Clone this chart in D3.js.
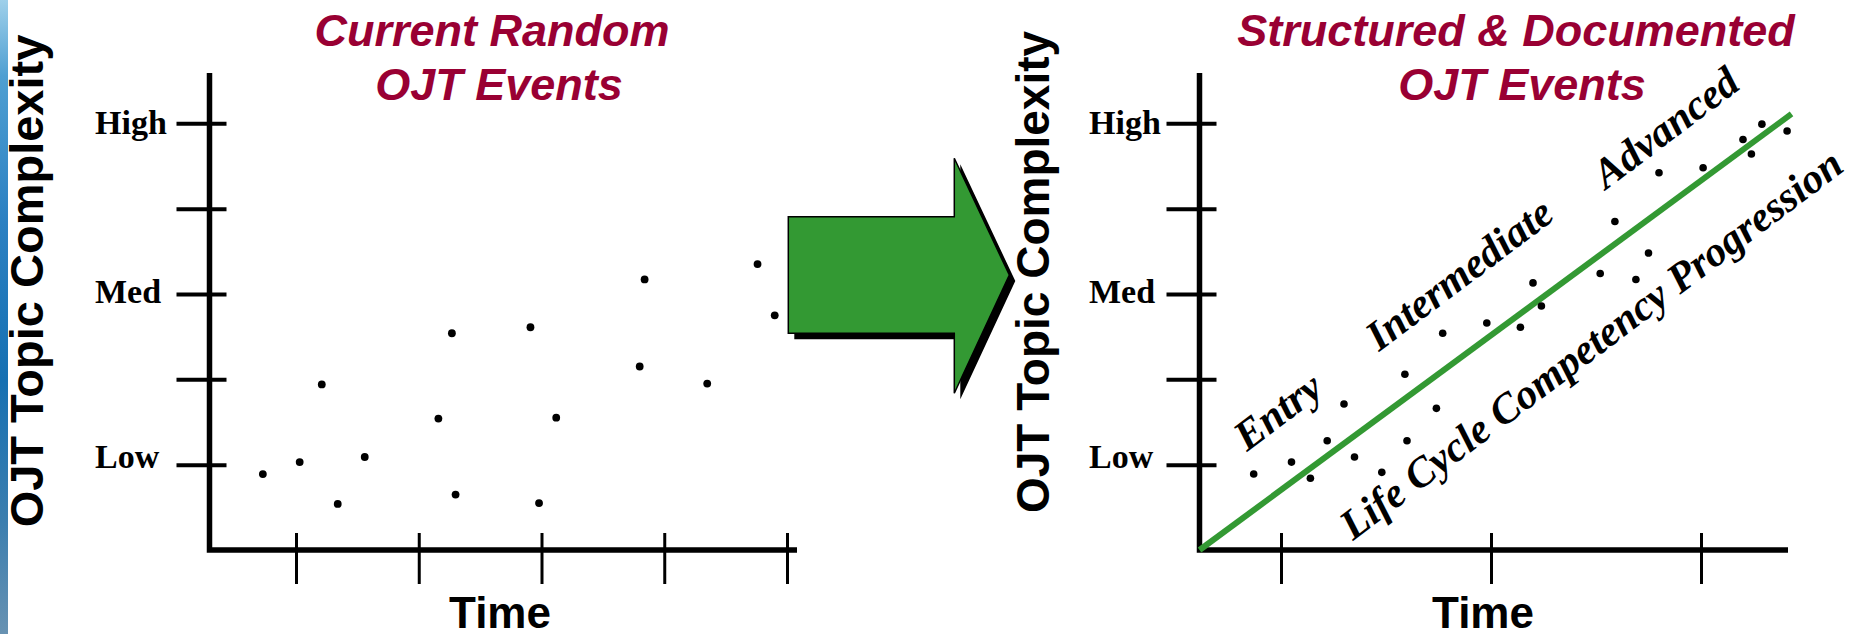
<!DOCTYPE html>
<html>
<head>
<meta charset="utf-8">
<script src="https://cdn.jsdelivr.net/npm/d3@7"></script>
<style>
  html, body { margin: 0; padding: 0; background: #ffffff; }
  svg { display: block; }
</style>
</head>
<body>
<svg id="chart" width="1853" height="634"></svg>
<script>
// ---- data ---------------------------------------------------------------
// Complexity scale: 0 = time axis, 1 = Low, 3 = Med, 5 = High
const complexityTicks = [1, 2, 3, 4, 5];
const complexityLabels = ["Low", "Med", "High"];
const complexityLabelValues = [1, 3, 5];

// Time ticks (one unit per tick)
const randomTimeTicks = [1, 2, 3, 4, 5];
const structuredTimeTicks = [1, 2, 3];

// Current random OJT events
const randomTime =       [0.73, 1.03, 1.21, 1.34, 1.56, 2.16, 2.27, 2.30, 2.91, 2.98, 3.12, 3.84, 3.80, 4.35, 4.76, 4.90];
const randomComplexity = [0.89, 1.03, 1.94, 0.54, 1.09, 1.54, 2.54, 0.65, 2.61, 0.55, 1.55, 3.17, 2.15, 1.95, 3.35, 2.75];

// Structured & documented OJT events
const structuredTime =       [0.87, 1.05, 1.14, 1.22, 1.30, 1.35, 1.48, 1.59, 1.60, 1.74, 1.77, 1.98, 2.14, 2.20, 2.24, 2.52, 2.59, 2.69, 2.75, 2.80, 3.01, 3.20, 3.24, 3.29, 3.41];
const structuredComplexity = [0.89, 1.03, 0.84, 1.28, 1.71, 1.09, 0.91, 2.06, 1.28, 1.66, 2.54, 2.66, 2.61, 3.13, 2.86, 3.24, 3.85, 3.17, 3.48, 4.42, 4.48, 4.81, 4.64, 4.99, 4.91];

// Competency progression trend line
const progressionTime = [0.612, 3.431];
const progressionComplexity = [0, 5.11];

// Stage annotations
const stageNames = ["Entry", "Intermediate", "Advanced"];
const progressionCaption = "Life Cycle Competency Progression";

const titleRandom = ["Current Random", "OJT Events"];
const titleStructured = ["Structured & Documented", "OJT Events"];
const axisTitleY = "OJT Topic Complexity";
const axisTitleX = "Time";

// ---- drawing ------------------------------------------------------------
const svg = d3.select("#chart");
const TITLE = "#990033";
const GREEN = "#339933";
const SANS = "'Liberation Sans', Arial, sans-serif";
const SERIF = "'Liberation Serif', 'Times New Roman', serif";

// decorative edge strip
const defs = svg.append("defs");
const grad = defs.append("linearGradient").attr("id", "edge").attr("x1", 0).attr("y1", 0).attr("x2", 0).attr("y2", 1);
[[0, "#9fd0ea"], [0.12, "#4f9fd2"], [0.35, "#2b80c2"], [0.6, "#1670b2"], [0.82, "#3b7eaf"], [1, "#6892b2"]]
  .forEach(([o, c]) => grad.append("stop").attr("offset", o).attr("stop-color", c));
svg.append("rect").attr("x", 0).attr("y", 0).attr("width", 8).attr("height", 634).attr("fill", "url(#edge)");

const y = d3.scaleLinear().domain([0, 5]).range([550, 123.3]);
const yTop = 73;
const labelShift = { High: 11, Med: 9, Low: 3 };

function panel(opts) {
  const g = svg.append("g");
  const x = opts.x;
  const ox = opts.originX;

  // title
  opts.title.forEach((t, i) => {
    g.append("text")
      .attr("x", opts.titleX[i]).attr("y", 46 + i * 53.5)
      .attr("text-anchor", "middle")
      .attr("font-family", SANS).attr("font-weight", "bold").attr("font-style", "italic")
      .attr("font-size", 45).attr("fill", TITLE)
      .text(t);
  });

  // y axis title
  g.append("text")
    .attr("transform", `translate(${opts.yTitleX},${opts.yTitleY}) rotate(-90)`)
    .attr("text-anchor", "middle")
    .attr("font-family", SANS).attr("font-weight", "bold")
    .attr("font-size", opts.yTitleSize).attr("fill", "#000")
    .text(axisTitleY);

  // x axis title
  g.append("text")
    .attr("x", opts.xTitleX).attr("y", 628)
    .attr("text-anchor", "middle")
    .attr("font-family", SANS).attr("font-weight", "bold")
    .attr("font-size", 44).attr("fill", "#000")
    .text(axisTitleX);

  // y ticks (crossing the axis)
  const ya = g.append("g").attr("transform", `translate(${ox},0)`)
    .call(d3.axisLeft(y).tickValues(complexityTicks).tickSizeInner(33).tickSizeOuter(0).tickFormat(""));
  ya.select(".domain").remove();
  ya.selectAll(".tick line").attr("x1", 17).attr("stroke", "#000").attr("stroke-width", 4);

  // x ticks (crossing the axis)
  const xa = g.append("g").attr("transform", `translate(0,${y(0)})`)
    .call(d3.axisBottom(x).tickValues(opts.xTicks).tickSizeInner(34).tickSizeOuter(0).tickFormat(""));
  xa.select(".domain").remove();
  xa.selectAll(".tick line").attr("y1", -17).attr("stroke", "#000").attr("stroke-width", 3);

  // axis frame
  g.append("path")
    .attr("d", `M${ox},${yTop}V${y(0)}H${opts.endX}`)
    .attr("fill", "none").attr("stroke", "#000").attr("stroke-width", 5.5)
    .attr("stroke-linejoin", "miter");

  // complexity labels
  complexityLabels.forEach((lab, i) => {
    g.append("text")
      .attr("x", opts.labelX).attr("y", y(complexityLabelValues[i]) + labelShift[lab])
      .attr("font-family", SERIF).attr("font-weight", "bold")
      .attr("font-size", 34).attr("fill", "#000")
      .text(lab);
  });
  return g;
}

// left panel: random events
const xRandom = d3.scaleLinear().domain([1, 5]).range([296, 787]);
const gL = panel({
  x: xRandom, originX: 209.5, endX: 797, xTicks: randomTimeTicks,
  title: titleRandom, titleX: [492, 499], yTitleX: 43, yTitleY: 281, yTitleSize: 47,
  xTitleX: 500, labelX: 95
});
gL.selectAll("circle.ev")
  .data(d3.zip(randomTime, randomComplexity))
  .join("circle").attr("class", "ev")
  .attr("cx", d => xRandom(d[0])).attr("cy", d => y(d[1]))
  .attr("r", 3.9).attr("fill", "#000");

// transition arrow with drop shadow
const arrowShape = [[0, 58.4], [166, 58.4], [166, 0], [221, 116.7], [166, 235], [166, 175], [0, 175]];
const arrowLine = d3.line();
const arrow = svg.append("g").attr("transform", "translate(788.3,158.3)");
arrow.append("path").attr("d", arrowLine(arrowShape) + "Z")
  .attr("transform", "translate(6,6)").attr("fill", "#000");
arrow.append("path").attr("d", arrowLine(arrowShape) + "Z")
  .attr("fill", GREEN).attr("stroke", "#000").attr("stroke-width", 1.5);

// right panel: structured events
const xStruct = d3.scaleLinear().domain([1, 3]).range([1281, 1701]);
const gR = panel({
  x: xStruct, originX: 1199.5, endX: 1788, xTicks: structuredTimeTicks,
  title: titleStructured, titleX: [1516, 1522], yTitleX: 1049, yTitleY: 272, yTitleSize: 46,
  xTitleX: 1483, labelX: 1089
});

gR.append("path")
  .datum(d3.zip(progressionTime, progressionComplexity))
  .attr("d", d3.line().x(d => xStruct(d[0])).y(d => y(d[1])))
  .attr("fill", "none").attr("stroke", GREEN).attr("stroke-width", 6);

gR.selectAll("circle.ev")
  .data(d3.zip(structuredTime, structuredComplexity))
  .join("circle").attr("class", "ev")
  .attr("cx", d => xStruct(d[0])).attr("cy", d => y(d[1]))
  .attr("r", 3.8).attr("fill", "#000");

// stage annotations, anchored in chart units along the progression
const stageAnchor = { Entry: [0.838, 1.148], Intermediate: [1.467, 2.32], Advanced: [2.548, 4.218] };
const captionAnchor = [1.343, 0.105];
const tilt = -37;
stageNames.forEach(name => {
  const [t, v] = stageAnchor[name];
  gR.append("text")
    .attr("transform", `translate(${xStruct(t)},${y(v)}) rotate(${tilt})`)
    .attr("font-family", SERIF).attr("font-weight", "bold").attr("font-style", "italic")
    .attr("font-size", 42).attr("fill", "#000")
    .text(name);
});
gR.append("text")
  .attr("transform", `translate(${xStruct(captionAnchor[0])},${y(captionAnchor[1])}) rotate(${tilt})`)
  .attr("font-family", SERIF).attr("font-weight", "bold").attr("font-style", "italic")
  .attr("font-size", 42).attr("fill", "#000")
  .text(progressionCaption);
</script>
</body>
</html>
